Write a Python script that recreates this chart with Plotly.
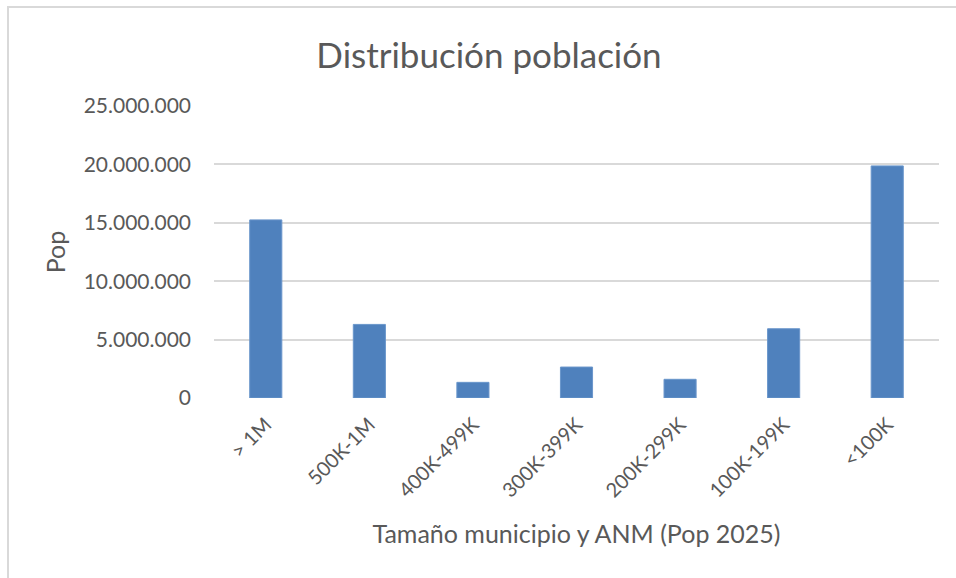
import html
import plotly.graph_objects as go

categories = ["> 1M", "500K-1M", "400K-499K", "300K-399K", "200K-299K", "100K-199K", "<100K"]
population = [15250000, 6300000, 1340000, 2650000, 1600000, 5930000, 19870000]
y_ticks = [0, 5000000, 10000000, 15000000, 20000000, 25000000]

W, H = 956, 578
L, R, T, B = 214, 17, 106, 180
pw, ph = W - L - R, H - T - B

def px_to_paper_x(px):
    return (px - L) / pw

def px_to_paper_y(py):
    return (H - B - py) / ph

text_color = "#595959"
font_family = "Lato, 'Open Sans', sans-serif"

fig = go.Figure(
    go.Bar(
        x=categories,
        y=population,
        marker=dict(color="#4F81BD", line=dict(color="#6A96CB", width=1)),
        hoverinfo="x+y",
    )
)

fig.update_layout(
    width=W,
    height=H,
    margin=dict(l=L, r=R, t=T, b=B),
    paper_bgcolor="white",
    plot_bgcolor="white",
    separators=",.",
    bargap=0.69,
    showlegend=False,
    font=dict(family=font_family, color=text_color),
    title=dict(
        text="Distribución población",
        x=489 / W,
        xanchor="center",
        y=1 - 56 / H,
        yanchor="middle",
        xref="container",
        yref="container",
        font=dict(size=35, color=text_color, family=font_family),
    ),
    xaxis=dict(
        type="category",
        tickmode="array",
        tickvals=categories,
        ticktext=[html.escape(c) for c in categories],
        tickangle=-45,
        tickfont=dict(size=20, color=text_color),
        ticklabelstandoff=10,
        showgrid=False,
        showline=False,
        ticks="",
        title=dict(
            text="Tamaño municipio y ANM (Pop 2025)",
            font=dict(size=25, color=text_color),
            standoff=24,
        ),
    ),
    yaxis=dict(
        range=[0, 25000000],
        tickmode="array",
        tickvals=y_ticks,
        tickformat=",d",
        tickfont=dict(size=21, color=text_color),
        ticklabelstandoff=22,
        showgrid=True,
        gridcolor="#D9D9D9",
        gridwidth=2,
        zeroline=False,
        showline=False,
        ticks="",
        title=dict(
            text="Pop",
            font=dict(size=25, color=text_color),
            standoff=10,
        ),
    ),
)

border_color = "#D9D9D9"
fig.add_shape(
    type="line", xref="paper", yref="paper",
    x0=px_to_paper_x(7), x1=px_to_paper_x(W + 5),
    y0=px_to_paper_y(7), y1=px_to_paper_y(7),
    line=dict(color=border_color, width=2),
)
fig.add_shape(
    type="line", xref="paper", yref="paper",
    x0=px_to_paper_x(8), x1=px_to_paper_x(8),
    y0=px_to_paper_y(6), y1=px_to_paper_y(H + 5),
    line=dict(color=border_color, width=2),
)

fig.write_html(
    "out.html",
    config={"displayModeBar": False},
    post_script="document.body.style.margin='0';document.body.style.overflow='hidden';",
)
